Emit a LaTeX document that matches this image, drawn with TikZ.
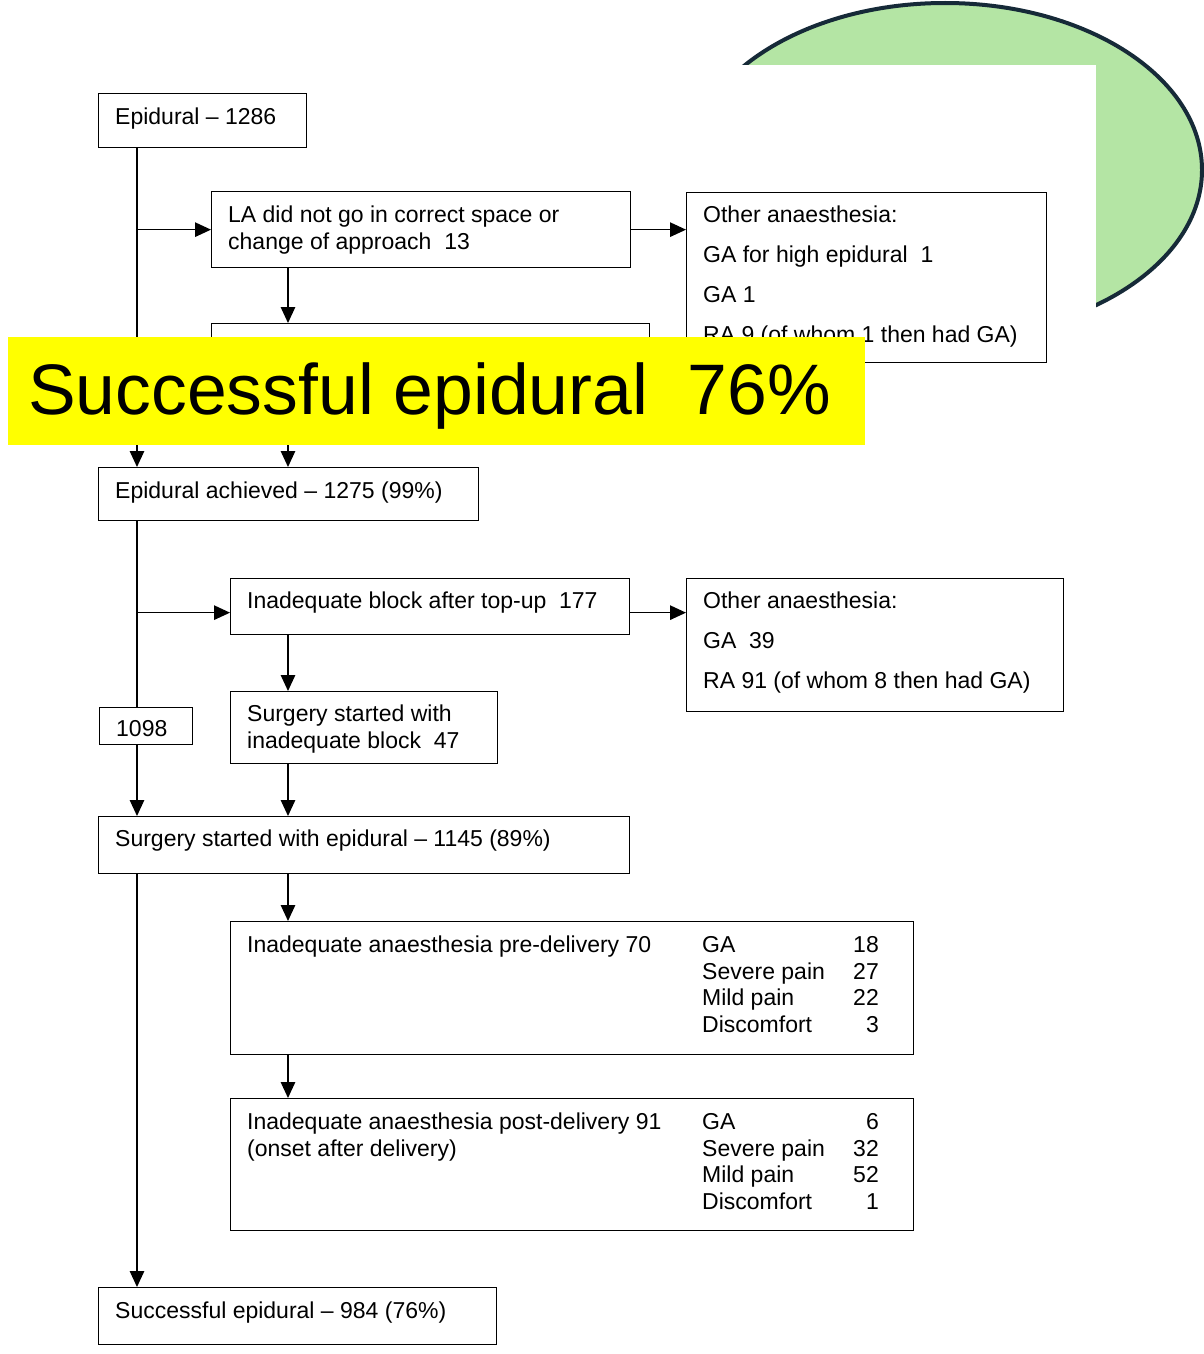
\documentclass[tikz,border=0pt]{standalone}
\usepackage{fontspec}
\setmainfont{Liberation Sans}
\usetikzlibrary{arrows.meta}
\definecolor{ovalgreen}{RGB}{180,229,164}
\definecolor{ovalline}{RGB}{22,42,56}
\definecolor{banneryellow}{RGB}{255,255,0}
\tikzset{
  boxshape/.style={draw=black, line width=1.3pt, rectangle, inner sep=0pt, anchor=north west},
  txt/.style={font=\fontsize{23}{27}\selectfont, inner sep=0pt, anchor=base west},
  num/.style={font=\fontsize{23}{27}\selectfont, inner sep=0pt, anchor=base east},
  arr/.style={line width=1.3pt, -{Triangle[length=16pt,width=14.5pt]}},
  plain/.style={line width=1.3pt}
}
\begin{document}
\begin{tikzpicture}[x=1pt,y=-1pt]
\useasboundingbox (0,0) rectangle (1204,1354);
\fill[white] (0,0) rectangle (1204,1354);
% green oval behind a white sheet
\filldraw[fill=ovalgreen, draw=ovalline, line width=4pt] (945,170) ellipse [x radius=257, y radius=167];
\fill[white] (560,65) rectangle (1096,345);
% column references
\coordinate (colA) at (137,0);
\coordinate (colB) at (288,0);
% boxes
\node[boxshape, minimum width=208pt, minimum height=54pt] (n1) at (98,93) {};
\node[boxshape, minimum width=419pt, minimum height=76pt] (n2) at (211,191) {};
\node[boxshape, minimum width=360pt, minimum height=170pt] (n3) at (686,192) {};
\node[boxshape, minimum width=438pt, minimum height=97pt] (n4) at (211,323) {};
\node[boxshape, minimum width=380pt, minimum height=53pt] (n5) at (98,467) {};
\node[boxshape, minimum width=399pt, minimum height=56pt] (n6) at (230,578) {};
\node[boxshape, minimum width=377pt, minimum height=133pt] (n7) at (686,578) {};
\node[boxshape, minimum width=267pt, minimum height=72pt] (n8) at (230,691) {};
\node[boxshape, minimum width=93pt, minimum height=37pt] (n9) at (99,707) {};
\node[boxshape, minimum width=531pt, minimum height=57pt] (n10) at (98,816) {};
\node[boxshape, minimum width=683pt, minimum height=133pt] (n11) at (230,921) {};
\node[boxshape, minimum width=683pt, minimum height=132pt] (n12) at (230,1098) {};
\node[boxshape, minimum width=398pt, minimum height=57pt] (n13) at (98,1287) {};
% texts
\node[txt] (t1) at (115,124) {Epidural – 1286};
\node[txt] (t2a) at (228,222) {LA did not go in correct space or};
\node[txt] (t2b) at (228,249) {change of approach\ \ 13};
\node[txt] (t3a) at (703,222) {Other anaesthesia:};
\node[txt] (t3b) at (703,262) {GA for high epidural\ \ 1};
\node[txt] (t3c) at (703,302) {GA 1};
\node[txt] (t3d) at (703,342) {RA 9 (of whom 1 then had GA)};
\node[txt] (t5) at (115,498) {Epidural achieved – 1275 (99\%)};
\node[txt] (t6) at (247,608) {Inadequate block after top-up\ \ 177};
\node[txt] (t7a) at (703,608) {Other anaesthesia:};
\node[txt] (t7b) at (703,648) {GA\ \ 39};
\node[txt] (t7c) at (703,688) {RA 91 (of whom 8 then had GA)};
\node[txt] (t8a) at (247,721) {Surgery started with};
\node[txt] (t8b) at (247,748) {inadequate block\ \ 47};
\node[txt] (t9) at (116,736) {1098};
\node[txt] (t10) at (115,846) {Surgery started with epidural – 1145 (89\%)};
\node[txt] (t11) at (247,952) {Inadequate anaesthesia pre-delivery 70};
\node[txt] (t11a) at (702,952) {GA};
\node[txt] (t11b) at (702,979) {Severe pain};
\node[txt] (t11c) at (702,1005) {Mild pain};
\node[txt] (t11d) at (702,1032) {Discomfort};
\node[num] (v11a) at (879,952) {18};
\node[num] (v11b) at (879,979) {27};
\node[num] (v11c) at (879,1005) {22};
\node[num] (v11d) at (879,1032) {3};
\node[txt] (t12) at (247,1129) {Inadequate anaesthesia post-delivery 91};
\node[txt] (t12x) at (247,1156) {(onset after delivery)};
\node[txt] (t12a) at (702,1129) {GA};
\node[txt] (t12b) at (702,1156) {Severe pain};
\node[txt] (t12c) at (702,1182) {Mild pain};
\node[txt] (t12d) at (702,1209) {Discomfort};
\node[num] (v12a) at (879,1129) {6};
\node[num] (v12b) at (879,1156) {32};
\node[num] (v12c) at (879,1182) {52};
\node[num] (v12d) at (879,1209) {1};
\node[txt] (t13) at (115,1318) {Successful epidural – 984 (76\%)};
% connectors
\draw[arr] (n1.south -| colA) -- (n5.north -| colA);
\draw[arr] (colA |- n2.west) -- (n2.west);
\draw[arr] (n2.east) -- (n3.west |- n2.east);
\draw[arr] (n2.south -| colB) -- (n4.north -| colB);
\draw[arr] (n4.south -| colB) -- (n5.north -| colB);
\draw[plain] (n5.south -| colA) -- (n9.north -| colA);
\draw[arr] ([yshift=-6pt]n6.west -| colA) -- ([yshift=-6pt]n6.west);
\draw[arr] ([yshift=-6pt]n6.east) -- ([yshift=-6pt]n6.east -| n7.west);
\draw[arr] (n6.south -| colB) -- (n8.north -| colB);
\draw[arr] (n9.south -| colA) -- (n10.north -| colA);
\draw[arr] (n8.south -| colB) -- (n10.north -| colB);
\draw[arr] (n10.south -| colA) -- (n13.north -| colA);
\draw[arr] (n10.south -| colB) -- (n11.north -| colB);
\draw[arr] (n11.south -| colB) -- (n12.north -| colB);
% banner
\node[fill=banneryellow, inner sep=0pt, anchor=north west, minimum width=857pt, minimum height=108pt] (banner) at (8,337) {};
\node[font=\fontsize{71.5}{80}\selectfont, inner sep=0pt, anchor=base west] (bannertext) at (28,414) {Successful epidural\ \ 76\%};
\end{tikzpicture}
\end{document}
